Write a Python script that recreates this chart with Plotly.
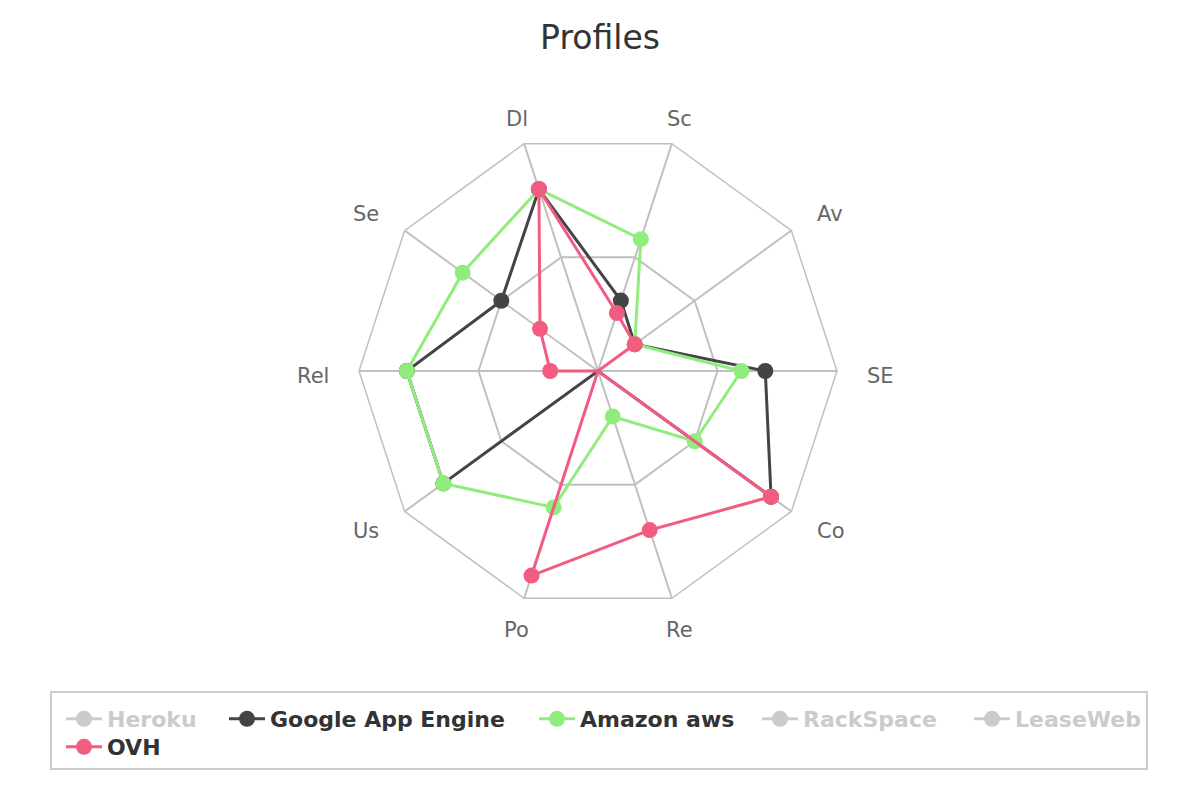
import math
import plotly.graph_objects as go

categories = ["Dl", "Sc", "Av", "SE", "Co", "Re", "Po", "Us", "Rel", "Se"]

series_names = ["Heroku", "Google App Engine", "Amazon aws", "RackSpace", "LeaseWeb", "OVH"]
heroku = [0.6, 0.5, 0.3, 0.4, 0.7, 0.2, 0.5, 0.6, 0.4, 0.3]
google = [0.80, 0.31, 0.19, 0.70, 0.895, 0.0, 0.0, 0.80, 0.80, 0.50]
amazon = [0.80, 0.58, 0.19, 0.60, 0.50, 0.20, 0.60, 0.80, 0.80, 0.70]
rackspace = [0.5, 0.4, 0.6, 0.3, 0.5, 0.4, 0.3, 0.5, 0.6, 0.4]
leaseweb = [0.4, 0.3, 0.5, 0.2, 0.6, 0.5, 0.4, 0.3, 0.5, 0.6]
ovh = [0.80, 0.255, 0.19, 0.0, 0.895, 0.70, 0.90, 0.0, 0.20, 0.30]

values = [heroku, google, amazon, rackspace, leaseweb, ovh]
colors = ["#999999", "#434348", "#90ed7d", "#999999", "#999999", "#f15c80"]
visible = ["legendonly", True, True, "legendonly", "legendonly", True]

# legend entry placement (pixel x of the symbol start, row)
legend_x_px = [67, 230, 540, 763, 975, 67]
legend_row = [0, 0, 0, 0, 0, 1]

FONT = "DejaVu Sans"
W, H = 1200, 800
CX, CY, R = 598, 371, 239
START_DEG = -18  # compass angle of first category
LABEL_DIST = 24

fig = go.Figure()
for i, (name, vals, col, vis) in enumerate(zip(series_names, values, colors, visible)):
    label = name if vis is True else f"<span style='color:#999999'>{name}</span>"
    fig.add_trace(go.Scatterpolar(
        r=vals + vals[:1],
        theta=categories + categories[:1],
        mode="lines+markers",
        name=label,
        visible=vis,
        legend="legend" if i == 0 else f"legend{i + 1}",
        line=dict(color=col, width=3),
        marker=dict(color=col, size=16),
    ))

# category labels as annotations just outside the outer polygon
annotations = []
n = len(categories)
for k, cat in enumerate(categories):
    a = math.radians(START_DEG + 360 * k / n)
    px = CX + (R + LABEL_DIST) * math.sin(a)
    py = CY - (R + LABEL_DIST) * math.cos(a)
    s = math.sin(a)
    if s > 0.5:
        xa, dx = "left", 4
    elif s < -0.5:
        xa, dx = "right", -4
    else:
        xa, dx = "center", 0
    dy = 5 if math.cos(a) < 0.5 else -2
    if math.cos(a) < -0.9:
        dy = 9
    annotations.append(dict(
        text=cat, x=(px + dx) / W, y=1 - (py + dy) / H, xref="paper", yref="paper",
        xanchor=xa, yanchor="middle", showarrow=False,
        font=dict(family=FONT, size=21, color="#666666"),
    ))

layout = dict(
    width=W, height=H,
    margin=dict(l=0, r=0, t=0, b=0),
    paper_bgcolor="white",
    font=dict(family=FONT, color="#333333"),
    title=dict(text="Profiles", x=0.5, xanchor="center", y=1 - 37 / H, yanchor="middle",
               font=dict(family=FONT, size=33, color="#333333")),
    polar=dict(
        domain=dict(x=[(CX - R) / W, (CX + R) / W],
                    y=[(H - CY - R) / H, (H - CY + R) / H]),
        bgcolor="white",
        gridshape="linear",
        angularaxis=dict(
            type="category", categoryarray=categories,
            rotation=90 - START_DEG, direction="clockwise",
            showline=True, linecolor="#c0c0c0", linewidth=1.5,
            gridcolor="#c0c0c0", gridwidth=1.5,
            ticks="", showticklabels=False,
        ),
        radialaxis=dict(
            range=[0, 1], tickvals=[0.5], showticklabels=False, ticks="",
            showline=False, gridcolor="#c0c0c0", gridwidth=1.5,
        ),
    ),
    showlegend=True,
    annotations=annotations,
    shapes=[dict(type="rect", xref="paper", yref="paper",
                 x0=51 / W, x1=1147 / W, y0=1 - 769 / H, y1=1 - 692 / H,
                 line=dict(color="#cccccc", width=2), fillcolor="rgba(0,0,0,0)")],
)

row_y = [719, 747]
for i in range(len(series_names)):
    key = "legend" if i == 0 else f"legend{i + 1}"
    layout[key] = dict(
        orientation="h",
        x=(legend_x_px[i] - 6) / W, y=1 - row_y[legend_row[i]] / H,
        xanchor="left", yanchor="middle",
        borderwidth=0, bgcolor="rgba(0,0,0,0)",
        itemwidth=36,
        font=dict(family=FONT, size=22, color="#333333", weight="bold"),
    )

fig.update_layout(**layout)
fig.write_html("out.html")
